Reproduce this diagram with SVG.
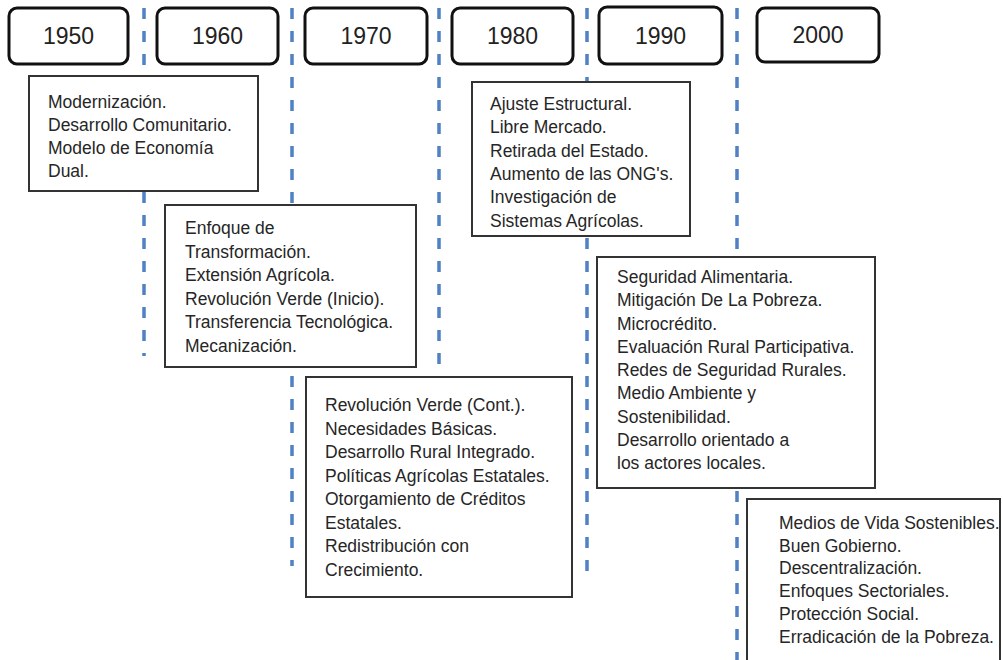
<svg xmlns="http://www.w3.org/2000/svg" width="1003" height="660" viewBox="0 0 1003 660">
<style>
.dash{stroke:#4f81c4;stroke-width:3.5;stroke-dasharray:11 12;fill:none}
.hdr{fill:#fff;stroke:#111;stroke-width:3}
.yr{font-family:"Liberation Sans",Arial,sans-serif;font-size:23px;fill:#222;text-anchor:middle}
.box{fill:#fff;stroke:#333;stroke-width:2}
.t{font-family:"Liberation Sans",Arial,sans-serif;font-size:17.5px;fill:#262626}
</style>
<rect width="1003" height="660" fill="#fff"/>
<g id="connectors">
<line class="dash" x1="144" y1="8" x2="144" y2="356"/>
<line class="dash" x1="292" y1="8" x2="292" y2="566"/>
<line class="dash" x1="439" y1="8" x2="439" y2="560"/>
<line class="dash" x1="587" y1="8" x2="587" y2="579"/>
<line class="dash" x1="737" y1="8" x2="737" y2="660"/>
</g>
<g id="h1950"><rect class="hdr" x="9" y="8" width="119" height="56" rx="8"/><text class="yr" x="68.5" y="44">1950</text></g>
<g id="h1960"><rect class="hdr" x="157" y="8" width="121" height="56" rx="8"/><text class="yr" x="217.5" y="44">1960</text></g>
<g id="h1970"><rect class="hdr" x="305" y="8" width="122" height="56" rx="8"/><text class="yr" x="366" y="44">1970</text></g>
<g id="h1980"><rect class="hdr" x="452" y="8" width="121" height="56" rx="8"/><text class="yr" x="512.5" y="44">1980</text></g>
<g id="h1990"><rect class="hdr" x="599" y="7" width="123" height="57" rx="8"/><text class="yr" x="660.5" y="44">1990</text></g>
<g id="h2000"><rect class="hdr" x="757" y="8" width="122" height="54" rx="8"/><text class="yr" x="818" y="43">2000</text></g>
<g id="b1950"><rect class="box" x="29" y="76" width="229" height="115"/>
<text class="t" x="48" y="108">Modernización.</text>
<text class="t" x="48" y="131">Desarrollo Comunitario.</text>
<text class="t" x="48" y="154">Modelo de Economía</text>
<text class="t" x="48" y="177">Dual.</text></g>
<g id="b1960"><rect class="box" x="165" y="205" width="251" height="162"/>
<text class="t" x="185" y="234">Enfoque de</text>
<text class="t" x="185" y="257.5">Transformación.</text>
<text class="t" x="185" y="281">Extensión Agrícola.</text>
<text class="t" x="185" y="304.5">Revolución Verde (Inicio).</text>
<text class="t" x="185" y="328">Transferencia Tecnológica.</text>
<text class="t" x="185" y="351.5">Mecanización.</text></g>
<g id="b1970"><rect class="box" x="306" y="377" width="266" height="220"/>
<text class="t" x="325" y="411">Revolución Verde (Cont.).</text>
<text class="t" x="325" y="434.5">Necesidades Básicas.</text>
<text class="t" x="325" y="458">Desarrollo Rural Integrado.</text>
<text class="t" x="325" y="481.5">Políticas Agrícolas Estatales.</text>
<text class="t" x="325" y="505">Otorgamiento de Créditos</text>
<text class="t" x="325" y="528.5">Estatales.</text>
<text class="t" x="325" y="552">Redistribución con</text>
<text class="t" x="325" y="575.5">Crecimiento.</text></g>
<g id="b1980"><rect class="box" x="472" y="82" width="218" height="154"/>
<text class="t" x="490" y="110">Ajuste Estructural.</text>
<text class="t" x="490" y="133.3">Libre Mercado.</text>
<text class="t" x="490" y="156.6">Retirada del Estado.</text>
<text class="t" x="490" y="179.9">Aumento de las ONG's.</text>
<text class="t" x="490" y="203.2">Investigación de</text>
<text class="t" x="490" y="226.5">Sistemas Agrícolas.</text></g>
<g id="b1990"><rect class="box" x="597" y="257" width="278" height="231"/>
<text class="t" x="617" y="283">Seguridad Alimentaria.</text>
<text class="t" x="617" y="306.3">Mitigación De La Pobreza.</text>
<text class="t" x="617" y="329.5">Microcrédito.</text>
<text class="t" x="617" y="352.8">Evaluación Rural Participativa.</text>
<text class="t" x="617" y="376">Redes de Seguridad Rurales.</text>
<text class="t" x="617" y="399.3">Medio Ambiente y</text>
<text class="t" x="617" y="422.5">Sostenibilidad.</text>
<text class="t" x="617" y="445.8">Desarrollo orientado a</text>
<text class="t" x="617" y="469">los actores locales.</text></g>
<g id="b2000"><rect class="box" x="747" y="499" width="253" height="175"/>
<text class="t" x="779" y="529">Medios de Vida Sostenibles.</text>
<text class="t" x="779" y="551.7">Buen Gobierno.</text>
<text class="t" x="779" y="574.4">Descentralización.</text>
<text class="t" x="779" y="597.1">Enfoques Sectoriales.</text>
<text class="t" x="779" y="619.8">Protección Social.</text>
<text class="t" x="779" y="642.5">Erradicación de la Pobreza.</text></g>
</svg>
